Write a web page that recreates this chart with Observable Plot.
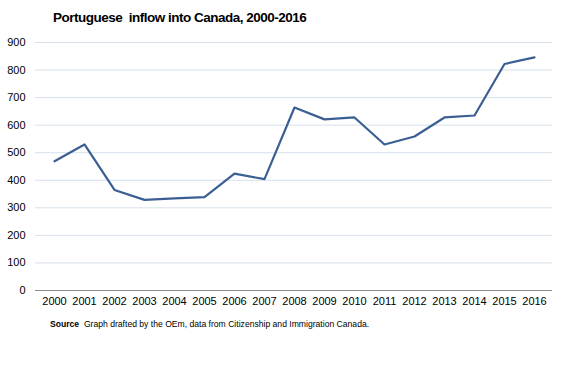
<!DOCTYPE html>
<html>
<head>
<meta charset="utf-8">
<script src="https://cdn.jsdelivr.net/npm/d3@7"></script>
<script src="https://cdn.jsdelivr.net/npm/@observablehq/plot@0.6"></script>
<style>
  body { margin: 0; background: #fff; font-family: "Liberation Sans", Arial, sans-serif; }
  #title { height: 30px; box-sizing: border-box; padding: 10px 0 0 53px; font-size: 13.5px; font-weight: bold; color: #000; letter-spacing: -0.5px; white-space: pre; }
  #caption { padding: 4px 0 0 50px; font-size: 8.6px; color: #000; }
</style>
</head>
<body>
<div id="title">Portuguese  inflow into Canada, 2000-2016</div>
<div id="chart"></div>
<div id="caption"><b>Source</b>&nbsp; Graph drafted by the OEm, data from Citizenship and Immigration Canada.</div>
<script>
const years = ["2000","2001","2002","2003","2004","2005","2006","2007","2008","2009","2010","2011","2012","2013","2014","2015","2016"];
const inflow = [469, 530, 365, 329, 334, 339, 424, 404, 664, 621, 628, 530, 559, 628, 635, 822, 846];
const yTicks = [0, 100, 200, 300, 400, 500, 600, 700, 800, 900];

const data = years.map((y, i) => ({year: y, value: inflow[i]}));

const chart = Plot.plot({
  width: 567,
  height: 285,
  marginTop: 12,
  marginBottom: 25,
  marginLeft: 35,
  marginRight: 15,
  style: {fontFamily: "'Liberation Sans', Arial, sans-serif", fontSize: "11px", color: "#000", background: "#fff"},
  x: {type: "point", domain: years, padding: 0.5, label: null},
  y: {domain: [0, 900], ticks: yTicks, label: null},
  marks: [
    Plot.ruleY(yTicks.filter(d => d > 0), {stroke: "#d6e0ec", strokeWidth: 1, strokeOpacity: 1}),
    Plot.ruleY([0], {stroke: "#8c8c8c", strokeWidth: 1}),
    Plot.axisY({ticks: yTicks, tickSize: 0, tickPadding: 10, tickFormat: d => String(d)}),
    Plot.axisX({tickSize: 0, tickPadding: 7}),
    Plot.line(data, {x: "year", y: "value", stroke: "#3b5f93", strokeWidth: 2.2})
  ]
});
document.getElementById("chart").appendChild(chart);
</script>
</body>
</html>
